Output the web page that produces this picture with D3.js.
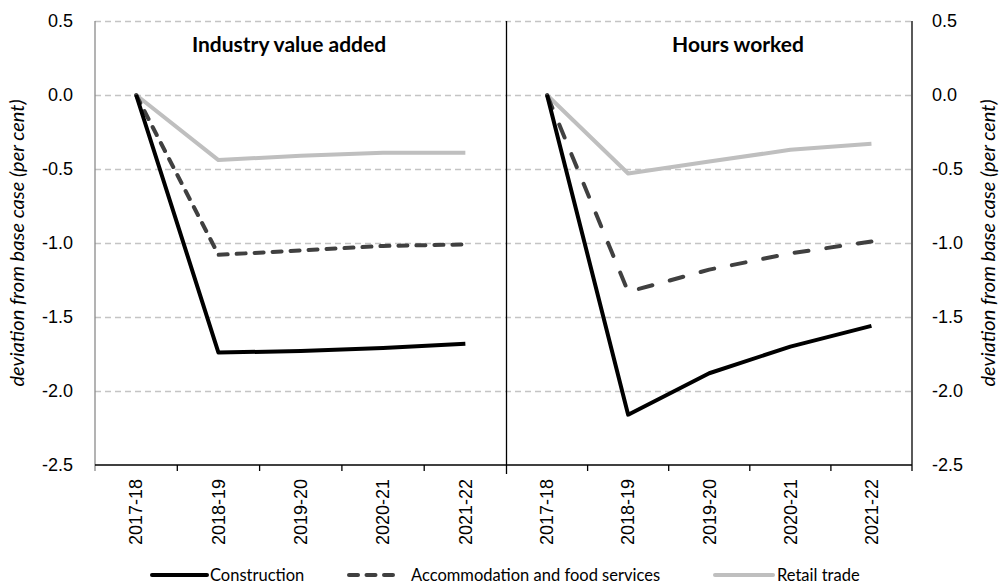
<!DOCTYPE html>
<html>
<head>
<meta charset="utf-8">
<script src="https://cdn.jsdelivr.net/npm/d3@7"></script>
<style>
  body { margin: 0; background: #fff; }
  svg { font-family: Lato, "Open Sans", sans-serif; }
  .axis path { display: none; }
  .axis text { font-size: 18px; fill: #000; }
</style>
</head>
<body>
<div id="chart"></div>
<script>
// data
const years = ["2017-18", "2018-19", "2019-20", "2020-21", "2021-22"];
const panelTitles = ["Industry value added", "Hours worked"];
const seriesNames = ["Construction", "Accommodation and food services", "Retail trade"];

// Industry value added
const constructionVA = [0, -1.74, -1.73, -1.71, -1.68];
const accommodationVA = [0, -1.08, -1.05, -1.02, -1.01];
const retailVA = [0, -0.44, -0.41, -0.39, -0.39];

// Hours worked
const constructionHW = [0, -2.16, -1.88, -1.70, -1.56];
const accommodationHW = [0, -1.33, -1.18, -1.07, -0.99];
const retailHW = [0, -0.53, -0.45, -0.37, -0.33];

const yTicks = [0.5, 0.0, -0.5, -1.0, -1.5, -2.0, -2.5];
const yTitle = "deviation from base case (per cent)";

let width = 1000, height = 585;
let plotLeft = 95, plotMid = 506.5, plotRight = 912;
let plotTop = 21, plotBottom = 465;

let svg = d3.select("#chart").append("svg")
    .attr("width", width)
    .attr("height", height);

let yScale = d3.scaleLinear()
  .domain([-2.5, 0.5])
  .range([plotBottom, plotTop]);

let styles = [
  {color: "#000000", dash: null},
  {color: "#404040", dash: true},
  {color: "#bfbfbf", dash: null}
];

let panels = [
  {title: panelTitles[0], x0: plotLeft, x1: plotMid, titleX: 289, dash: "9,9",
   series: [constructionVA, accommodationVA, retailVA]},
  {title: panelTitles[1], x0: plotMid, x1: plotRight, titleX: 738, dash: "14,18",
   series: [constructionHW, accommodationHW, retailHW]}
];

// gridlines
svg.append("g")
    .attr("transform", `translate(${plotLeft}, 0)`)
    .call(d3.axisLeft(yScale).tickValues(yTicks.filter(d => d > -2.5)).tickSize(-(plotRight - plotLeft)).tickFormat(""))
    .call(g => g.select(".domain").remove())
    .call(g => g.selectAll("line")
      .attr("stroke", "#c4c4c4")
      .attr("stroke-width", 1.3)
      .attr("stroke-dasharray", "6,4"));

// y axes labels
svg.append("g")
    .attr("class", "axis")
    .attr("transform", `translate(${plotLeft}, 0)`)
    .call(d3.axisLeft(yScale).tickValues(yTicks).tickSize(0).tickPadding(22).tickFormat(d => d.toFixed(1)));

svg.append("g")
    .attr("class", "axis")
    .attr("transform", `translate(${plotRight}, 0)`)
    .call(d3.axisRight(yScale).tickValues(yTicks).tickSize(0).tickPadding(20).tickFormat(d => d.toFixed(1)));

// y titles
svg.append("text")
    .attr("transform", `translate(24, ${(plotTop + plotBottom) / 2}) rotate(-90)`)
    .attr("text-anchor", "middle")
    .attr("font-size", 20)
    .attr("font-style", "italic")
    .text(yTitle);

svg.append("text")
    .attr("transform", `translate(995, ${(plotTop + plotBottom) / 2}) rotate(-90)`)
    .attr("text-anchor", "middle")
    .attr("font-size", 20)
    .attr("font-style", "italic")
    .text(yTitle);

let line = (x) => d3.line()
    .x((d, i) => x(years[i]) + x.bandwidth() / 2)
    .y(d => yScale(d));

panels.forEach((p) => {
  let x = d3.scaleBand()
    .domain(years)
    .range([p.x0, p.x1]);

  // series, retail drawn first
  [2, 1, 0].forEach(k => {
    svg.append("path")
      .datum(p.series[k])
      .attr("fill", "none")
      .attr("stroke", styles[k].color)
      .attr("stroke-width", 4)
      .attr("stroke-linejoin", "round")
      .attr("stroke-linecap", styles[k].dash ? "round" : "butt")
      .attr("stroke-dasharray", styles[k].dash ? p.dash : null)
      .attr("d", line(x));
  });

  // x labels
  svg.append("g")
      .attr("class", "axis")
      .attr("transform", `translate(0, ${plotBottom})`)
      .call(d3.axisBottom(x).tickSize(0).tickPadding(0))
      .selectAll("text")
      .attr("transform", "rotate(-90)")
      .attr("text-anchor", "end")
      .attr("x", -14)
      .attr("y", 0)
      .attr("dy", "0.35em");

  // x tick marks at band edges
  svg.append("g")
    .selectAll("line")
    .data(years.slice(1))
    .join("line")
      .attr("x1", d => x(d))
      .attr("x2", d => x(d))
      .attr("y1", plotBottom)
      .attr("y2", plotBottom + 6)
      .attr("stroke", "#000")
      .attr("stroke-width", 1.3);

  svg.append("text")
    .attr("x", p.titleX)
    .attr("y", 52)
    .attr("text-anchor", "middle")
    .attr("font-size", 21)
    .attr("font-weight", "bold")
    .text(p.title);
});

// frame lines
svg.append("line")
    .attr("x1", plotLeft).attr("x2", plotLeft)
    .attr("y1", plotTop).attr("y2", plotBottom + 6)
    .attr("stroke", "#8a8a8a").attr("stroke-width", 1.3);
svg.append("line")
    .attr("x1", plotRight).attr("x2", plotRight)
    .attr("y1", plotTop).attr("y2", plotBottom + 6)
    .attr("stroke", "#000").attr("stroke-width", 1.3);
svg.append("line")
    .attr("x1", plotMid).attr("x2", plotMid)
    .attr("y1", plotTop).attr("y2", plotBottom + 9)
    .attr("stroke", "#000").attr("stroke-width", 1.3);
svg.append("line")
    .attr("x1", plotLeft).attr("x2", plotRight)
    .attr("y1", plotBottom).attr("y2", plotBottom)
    .attr("stroke", "#000").attr("stroke-width", 1.3);

// legend
let legendX = [152, 349, 715];
let legendLen = [55, 51, 58];
let legendTextX = [210, 411, 777];
let legend = svg.append("g").attr("transform", "translate(0, 575)");
seriesNames.forEach((name, k) => {
  legend.append("line")
    .attr("x1", legendX[k]).attr("x2", legendX[k] + legendLen[k])
    .attr("y1", 0).attr("y2", 0)
    .attr("stroke", styles[k].color)
    .attr("stroke-width", 4)
    .attr("stroke-linecap", "round")
    .attr("stroke-dasharray", styles[k].dash ? "9,8.5" : null);
  legend.append("text")
    .attr("x", legendTextX[k])
    .attr("y", 0)
    .attr("dy", "0.35em")
    .attr("font-size", 16.5)
    .text(name);
});
</script>
</body>
</html>
